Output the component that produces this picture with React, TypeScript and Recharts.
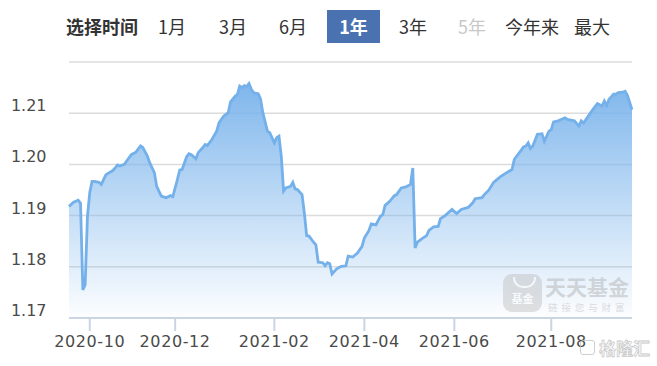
import React from 'react';
import { AreaChart, Area, XAxis, YAxis, CartesianGrid } from 'recharts';

// trading-day index (0 = first day of the 1-year window) and unit NAV
const tradingDay = [
  0, 2, 4, 5, 6, 7, 8, 9, 10, 11, 13, 14, 16, 19, 20, 21, 22, 24, 26, 27, 29, 31, 32, 34, 35, 37, 38, 40, 42, 44,
  45, 47, 48, 49, 51, 52, 53, 55, 56, 58, 59, 60, 62, 64, 65, 67, 69, 70, 72, 73, 74, 75, 76, 77, 78, 79, 80, 82,
  83, 84, 86, 87, 89, 90, 91, 92, 93, 94, 96, 97, 98, 99, 101, 102, 103, 104, 106, 107, 108, 110, 111, 112, 113,
  114, 116, 118, 120, 121, 123, 125, 127, 128, 130, 131, 133, 135, 136, 137, 139, 141, 142, 144, 146, 148, 149,
  150, 151, 153, 155, 156, 158, 160, 161, 163, 166, 168, 170, 173, 175, 176, 179, 180, 182, 184, 187, 189, 192,
  193, 196, 197, 198, 199, 200, 201, 203, 205, 206, 208, 209, 210, 212, 215, 216, 219, 221, 222, 223, 225, 227,
  229, 231, 232, 233, 234, 236, 237, 238, 240, 241, 242, 243, 244,
];
const navValue = [
  1.1918, 1.1926, 1.193, 1.1924, 1.1755, 1.1765, 1.1899, 1.1945, 1.1967, 1.1967, 1.1965, 1.1961, 1.198, 1.1988,
  1.1993, 1.1999, 1.1997, 1.2, 1.2013, 1.2019, 1.2024, 1.2036, 1.2033, 1.2016, 1.2003, 1.1984, 1.1957, 1.1938,
  1.1935, 1.1939, 1.1937, 1.1971, 1.1989, 1.199, 1.2015, 1.2021, 1.2019, 1.2011, 1.2023, 1.2033, 1.2039, 1.2037,
  1.2049, 1.2065, 1.2081, 1.2094, 1.2101, 1.2122, 1.2133, 1.2137, 1.2153, 1.215, 1.2154, 1.2152, 1.2158, 1.2147,
  1.214, 1.2138, 1.2128, 1.2101, 1.2065, 1.2062, 1.2042, 1.2052, 1.2055, 1.2016, 1.1948, 1.1954, 1.1957, 1.1965,
  1.1952, 1.1951, 1.1941, 1.1905, 1.1861, 1.186, 1.1848, 1.1843, 1.1809, 1.1808, 1.1802, 1.1808, 1.1806, 1.1786,
  1.1796, 1.1801, 1.1802, 1.1821, 1.1819, 1.1827, 1.184, 1.1856, 1.1871, 1.1884, 1.1882, 1.1899, 1.1902, 1.192,
  1.1928, 1.1939, 1.1941, 1.1954, 1.1956, 1.1961, 1.1993, 1.1837, 1.1848, 1.1855, 1.1861, 1.1871, 1.1878, 1.1879,
  1.1894, 1.19, 1.1912, 1.1904, 1.1912, 1.1916, 1.1925, 1.1933, 1.1935, 1.1941, 1.195, 1.1965, 1.1976, 1.1982,
  1.199, 1.201, 1.2028, 1.2034, 1.2036, 1.2042, 1.2031, 1.2036, 1.2059, 1.206, 1.2045, 1.2065, 1.2068, 1.2083,
  1.2085, 1.2091, 1.2088, 1.2085, 1.2075, 1.2085, 1.2081, 1.2094, 1.2107, 1.2119, 1.2114, 1.2124, 1.2115, 1.2127,
  1.2137, 1.2137, 1.214, 1.2141, 1.2143, 1.2135, 1.2121, 1.2107,
];

const monthTickDay = [9, 46, 89, 128, 167, 209];
const monthTickLabel = ['2020-10', '2020-12', '2021-02', '2021-04', '2021-06', '2021-08'];
const yTicks = [1.17, 1.18, 1.19, 1.2, 1.21, 1.22];
const yLabelTicks = [1.17, 1.18, 1.19, 1.2, 1.21];

const rangeButtons = ['1月', '3月', '6月', '1年', '3年', '5年', '今年来', '最大'];
const selectedRange = '1年';
const disabledRange = '5年';

const data = tradingDay.map((d, k) => ({ day: d, nav: navValue[k] }));

const buttonLeft = [159, 220, 280, 327, 400, 459, 506, 575];

const XTick = (props: any) => {
  const { x, y, payload } = props;
  const idx = monthTickDay.indexOf(payload.value);
  return (
    <text
      x={x}
      y={y + 14}
      textAnchor="middle"
      fontSize={16}
      fontFamily="DejaVu Sans"
      letterSpacing={0.6}
      fill="#4a4a4a"
    >
      {idx >= 0 ? monthTickLabel[idx] : ''}
    </text>
  );
};

const YTick = (props: any) => {
  const { y, payload } = props;
  const show = yLabelTicks.some((t) => Math.abs(t - payload.value) < 1e-6);
  if (!show) return <g />;
  return (
    <text x={46.5} y={y - 2} textAnchor="end" fontSize={16} fontFamily="DejaVu Sans" fill="#4a4a4a">
      {payload.value.toFixed(2)}
    </text>
  );
};

export default function App() {
  return (
    <div
      style={{
        position: 'absolute',
        left: 0,
        top: 0,
        width: 657,
        height: 366,
        background: '#fff',
        overflow: 'hidden',
        fontFamily: '"Noto Sans CJK SC", sans-serif',
      }}
    >
      <div
        style={{
          position: 'absolute',
          left: 66,
          top: 10,
          height: 33,
          lineHeight: '33px',
          fontSize: 18,
          fontWeight: 700,
          color: '#333',
        }}
      >
        选择时间
      </div>
      {rangeButtons.map((b, k) => {
        const sel = b === selectedRange;
        return (
          <div
            key={b}
            style={{
              position: 'absolute',
              left: buttonLeft[k] - (sel ? 0 : 1),
              top: 10,
              width: sel ? 53 : undefined,
              height: 33,
              lineHeight: '33px',
              fontSize: 18,
              textAlign: 'center',
              fontWeight: sel ? 700 : 400,
              background: sel ? '#4a72b0' : 'transparent',
              color: sel ? '#fff' : b === disabledRange ? '#c8c8c8' : '#333',
            }}
          >
            {b}
          </div>
        );
      })}

      <div style={{ position: 'absolute', left: 0, top: 0 }}>
        <AreaChart width={657} height={366} data={data} margin={{ top: 62, right: 25, bottom: 18, left: 9 }}>
          <defs>
            <linearGradient id="navFill" x1="0" y1="0" x2="0" y2="1">
              <stop offset="0%" stopColor="#78b2eb" stopOpacity={0.95} />
              <stop offset="55%" stopColor="#7cb5ec" stopOpacity={0.45} />
              <stop offset="100%" stopColor="#7cb5ec" stopOpacity={0.02} />
            </linearGradient>
          </defs>
          <CartesianGrid vertical={false} stroke="#dcdcdc" strokeWidth={1.5} />
          <XAxis
            type="number"
            dataKey="day"
            domain={[0, 244]}
            ticks={monthTickDay}
            interval={0}
            height={30}
            tickSize={13}
            axisLine={{ stroke: '#c9d5e3', strokeWidth: 2 }}
            tickLine={{ stroke: '#c9d5e3', strokeWidth: 2 }}
            tick={<XTick />}
          />
          <YAxis
            type="number"
            domain={[1.17, 1.22]}
            ticks={yTicks}
            interval={0}
            width={60}
            axisLine={false}
            tickLine={false}
            tick={<YTick />}
          />
          <Area
            type="linear"
            dataKey="nav"
            stroke="#74b0ea"
            strokeWidth={2.8}
            fill="url(#navFill)"
            fillOpacity={1}
            dot={false}
            activeDot={false}
            isAnimationActive={false}
          />
        </AreaChart>
      </div>

      {/* 天天基金 watermark */}
      <div style={{ position: 'absolute', left: 503, top: 274, width: 130, height: 40, opacity: 0.42 }}>
        <div
          style={{
            position: 'absolute',
            left: 0,
            top: 0,
            width: 39,
            height: 38,
            borderRadius: 9,
            background: '#b9b9b9',
          }}
        >
          <div
            style={{
              position: 'absolute',
              left: 10,
              top: 3,
              width: 19,
              height: 9,
              borderBottomLeftRadius: 10,
              borderBottomRightRadius: 10,
              border: '2px solid #fff',
              borderTop: 'none',
            }}
          />
          <div
            style={{
              position: 'absolute',
              left: 0,
              top: 17,
              width: 39,
              textAlign: 'center',
              fontSize: 11,
              fontWeight: 700,
              color: '#fff',
              lineHeight: '14px',
            }}
          >
            基金
          </div>
        </div>
        <div
          style={{
            position: 'absolute',
            left: 42,
            top: 1,
            fontSize: 21,
            fontWeight: 700,
            lineHeight: '22px',
            color: '#a8a8a8',
            whiteSpace: 'nowrap',
          }}
        >
          天天基金
        </div>
        <div
          style={{
            position: 'absolute',
            left: 45,
            top: 28,
            fontSize: 9.5,
            lineHeight: '10px',
            letterSpacing: 3.9,
            color: '#b0b0b0',
            whiteSpace: 'nowrap',
          }}
        >
          链接您与财富
        </div>
      </div>

      {/* 格隆汇 watermark */}
      <div style={{ position: 'absolute', left: 580, top: 338, height: 22, opacity: 0.8 }}>
        <div
          style={{
            position: 'absolute',
            left: 0,
            top: 2,
            width: 15,
            height: 15,
            borderRadius: 3,
            border: '1.5px solid #c4c4c4',
            boxSizing: 'border-box',
          }}
        />
        <div
          style={{
            position: 'absolute',
            left: 19,
            top: 0,
            fontSize: 17,
            lineHeight: '20px',
            fontWeight: 700,
            color: '#fff',
            WebkitTextStroke: '0.8px #bdbdbd',
            whiteSpace: 'nowrap',
          }}
        >
          格隆汇
        </div>
      </div>
    </div>
  );
}
